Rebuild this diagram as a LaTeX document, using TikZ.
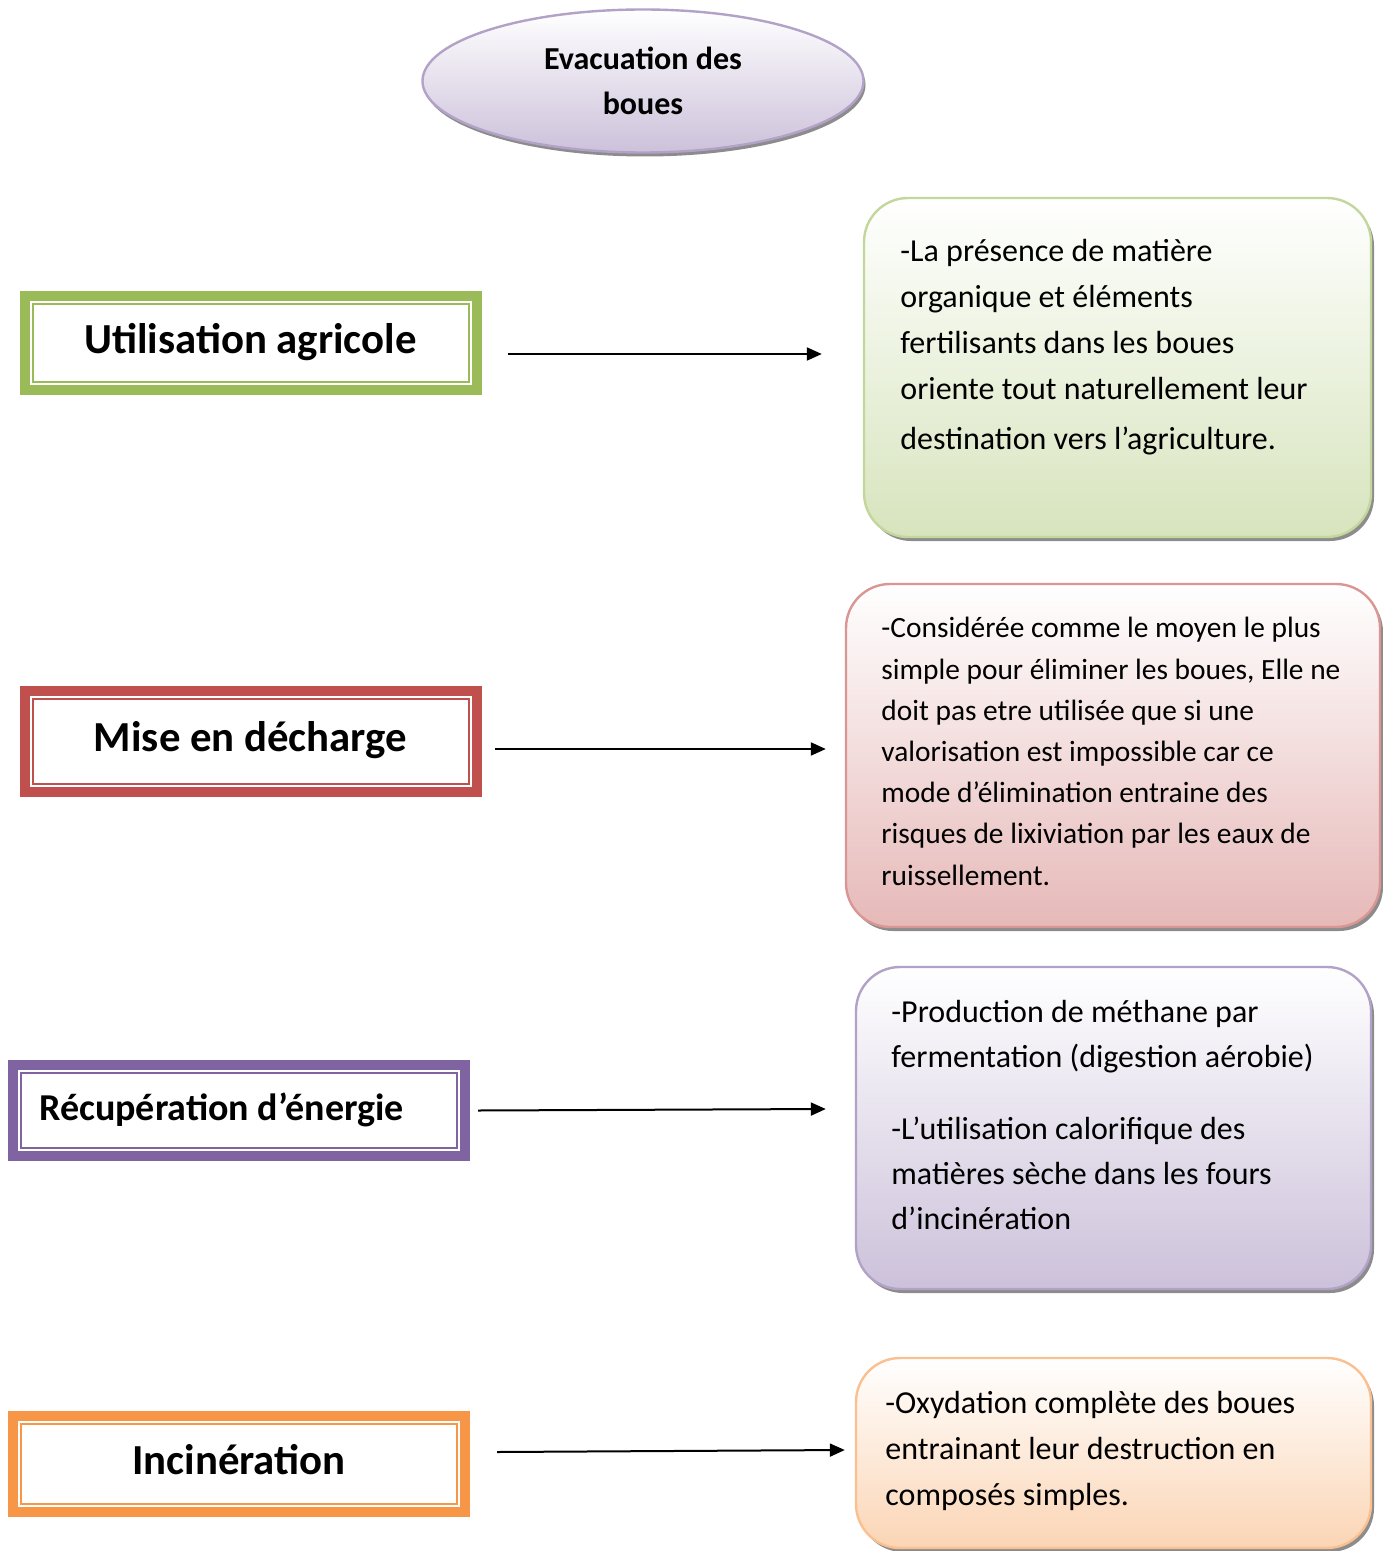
\documentclass[tikz,border=0pt]{standalone}
\usepackage{fontspec}
\setmainfont{Carlito}
\definecolor{AgriGreen}{HTML}{9BBB59}
\definecolor{AgriLine}{HTML}{C3D69B}
\definecolor{AgriFill}{HTML}{D7E4BD}
\definecolor{DechRed}{HTML}{C0504D}
\definecolor{DechLine}{HTML}{D99694}
\definecolor{DechFill}{HTML}{E6B9B8}
\definecolor{EnerPurple}{HTML}{8064A2}
\definecolor{EnerLine}{HTML}{B3A2C7}
\definecolor{EnerFill}{HTML}{CCC1DA}
\definecolor{InciOrange}{HTML}{F79646}
\definecolor{InciLine}{HTML}{FAC090}
\definecolor{InciFill}{HTML}{FBD5B5}
\usetikzlibrary{positioning,shapes.geometric,arrows.meta,shadows}

\begin{document}
\begin{tikzpicture}[x=0.5pt,y=-0.5pt,
    titlebox/.style={draw=#1, line width=5pt, fill=white, minimum width=226pt,
      font=\fontsize{21.4}{25}\selectfont\bfseries, text height=12pt, text depth=2pt},
    infobox/.style={rounded corners=22pt, line width=1.2pt, top color=white,
      drop shadow={shadow xshift=1.5pt, shadow yshift=-2pt, fill=black!45, opacity=1}},
    infotext/.style={anchor=base west, align=left, inner sep=0pt},
    arr/.style={line width=1pt, -{Triangle[length=7.5pt,width=6.5pt]}}]
  \useasboundingbox (0,0) rectangle (1382,1551);

  % central ellipse
  \node[ellipse, draw=EnerLine, line width=1.2pt, top color=white, bottom color=EnerFill,
    drop shadow={shadow xshift=1pt, shadow yshift=-2pt, fill=black!45, opacity=1},
    minimum width=220.5pt, minimum height=71.5pt, align=center,
    font=\fontsize{16}{22.5}\selectfont\bfseries] (evac) at (643,81) {Evacuation des\\boues};

  % left boxes
  \node[titlebox=AgriGreen, minimum height=47pt] (agri) at (250.5,343) {Utilisation agricole};
  \draw[AgriGreen, line width=1pt] ([shift={(6.5pt,-6.5pt)}]agri.north west) rectangle ([shift={(-6.5pt,6.5pt)}]agri.south east);
  \node[titlebox=DechRed, minimum height=50.5pt] (dech) at (250.5,741.5) {Mise en décharge};
  \draw[DechRed, line width=1pt] ([shift={(6.5pt,-6.5pt)}]dech.north west) rectangle ([shift={(-6.5pt,6.5pt)}]dech.south east);
  \node[titlebox=EnerPurple, minimum height=45.5pt, font=\fontsize{19}{23}\selectfont\bfseries] (ener) at (239,1110.5) {Récupération d’énergie\hspace*{17.5pt}};
  \draw[EnerPurple, line width=1pt] ([shift={(6.5pt,-6.5pt)}]ener.north west) rectangle ([shift={(-6.5pt,6.5pt)}]ener.south east);
  \node[titlebox=InciOrange, minimum height=48pt] (inci) at (239,1464) {Incinération};
  \draw[InciOrange, line width=1pt] ([shift={(6.5pt,-6.5pt)}]inci.north west) rectangle ([shift={(-6.5pt,6.5pt)}]inci.south east);

  % right boxes
  \node[infobox, draw=AgriLine, bottom color=AgriFill, minimum width=253.5pt, minimum height=169.5pt] (agriinfo) at (1117.5,367.5) {};
  \node[infobox, draw=DechLine, bottom color=DechFill, minimum width=267pt, minimum height=171.5pt] (dechinfo) at (1113,755.5) {};
  \node[infobox, draw=EnerLine, bottom color=EnerFill, minimum width=257.5pt, minimum height=161pt] (enerinfo) at (1113.5,1128) {};
  \node[infobox, draw=InciLine, bottom color=InciFill, minimum width=257.5pt, minimum height=95pt] (inciinfo) at (1113.5,1453) {};

  \node[infotext, font=\fontsize{16}{23}\selectfont] (agritxt) at (900,449)
    {-La présence de matière\\organique et éléments\\fertilisants dans les boues\\oriente tout naturellement leur\\[2pt]destination vers l’agriculture.};
  \node[infotext, font=\fontsize{14.7}{20.6}\selectfont] (dechtxt) at (881,885)
    {-Considérée comme le moyen le plus\\simple pour éliminer les boues, Elle ne\\doit pas etre utilisée que si une\\valorisation est impossible car ce\\mode d’élimination entraine des\\risques de lixiviation par les eaux de\\ruissellement.};
  \node[infotext, font=\fontsize{16}{22.5}\selectfont] (enertxt) at (891,1229)
    {-Production de méthane par\\fermentation (digestion aérobie)\\[13.5pt]-L’utilisation calorifique des\\matières sèche dans les fours\\d’incinération};
  \node[infotext, font=\fontsize{16}{23}\selectfont] (incitxt) at (885,1505)
    {-Oxydation complète des boues\\entrainant leur destruction en\\composés simples.};

  % arrows
  \draw[arr] ([shift={(13pt,-5.5pt)}]agri.east) -- ([shift={(-20.5pt,6.75pt)}]agriinfo.west);
  \draw[arr] ([shift={(6.5pt,-3.75pt)}]dech.east) -- ([shift={(-9.5pt,3.25pt)}]dechinfo.west);
  \draw[arr] ([shift={(4pt,0pt)}]ener.east) -- ([shift={(-14.5pt,9.5pt)}]enerinfo.west);
  \draw[arr] ([shift={(13.5pt,6pt)}]inci.east) -- ([shift={(-5pt,1.5pt)}]inciinfo.west);
\end{tikzpicture}
\end{document}
